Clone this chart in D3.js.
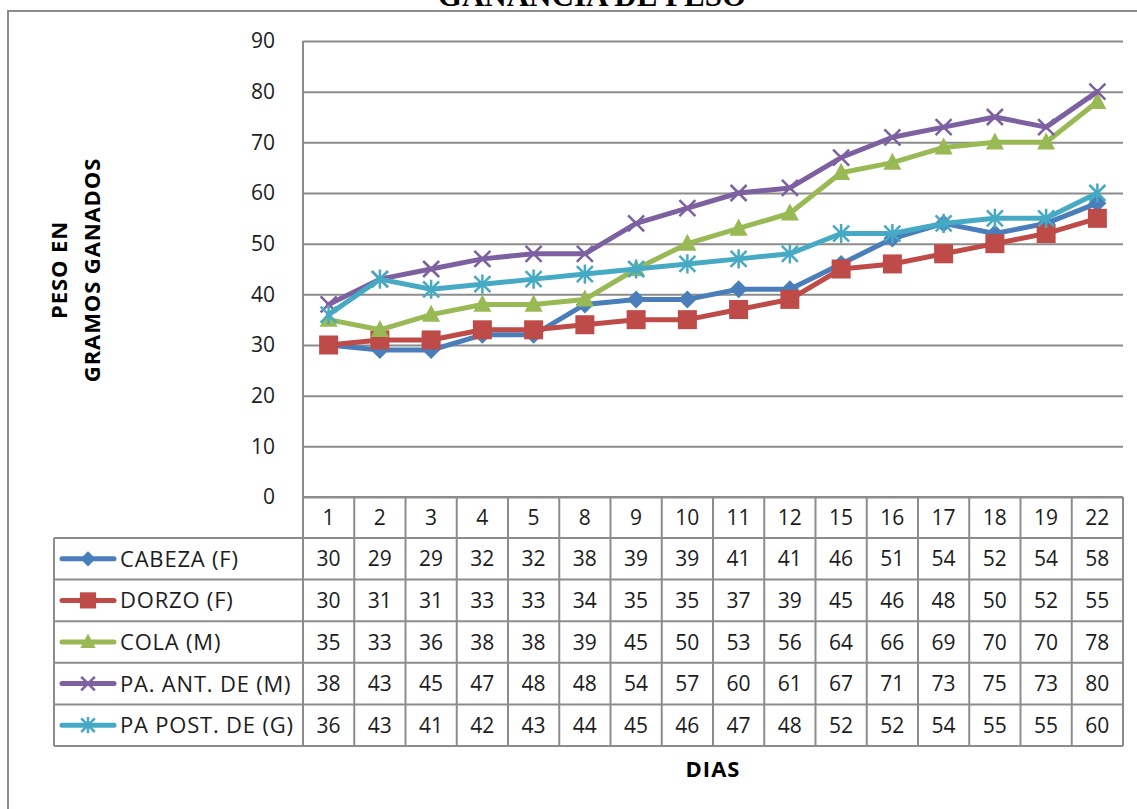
<!DOCTYPE html>
<html><head><meta charset="utf-8">
<script src="https://cdn.jsdelivr.net/npm/d3@7"></script>
<style>
html,body{margin:0;padding:0;background:#fff;}
svg{display:block;}
</style></head>
<body>
<svg id="c" width="1137" height="809"></svg>
<script>
const title = "GANANCIA DE PESO";
const yTitle = ["PESO EN", "GRAMOS GANADOS"];
const xTitle = "DIAS";
const dias = ["1","2","3","4","5","8","9","10","11","12","15","16","17","18","19","22"];
const seriesNames = ["CABEZA (F)", "DORZO (F)", "COLA (M)", "PA. ANT. DE (M)", "PA POST. DE (G)"];
const cabeza = [30,29,29,32,32,38,39,39,41,41,46,51,54,52,54,58];
const dorzo  = [30,31,31,33,33,34,35,35,37,39,45,46,48,50,52,55];
const cola   = [35,33,36,38,38,39,45,50,53,56,64,66,69,70,70,78];
const paAnt  = [38,43,45,47,48,48,54,57,60,61,67,71,73,75,73,80];
const paPost = [36,43,41,42,43,44,45,46,47,48,52,52,54,55,55,60];
const yTicks = [0,10,20,30,40,50,60,70,80,90];

const colors = ["#4a7ebb","#be4b48","#98b954","#7d60a0","#46aac5"];
const markers = ["diamond","square","triangle","x","asterisk"];
const seriesVals = [cabeza, dorzo, cola, paAnt, paPost];

const svg = d3.select("#c");
const FONT = "'Open Sans', sans-serif";
const grid = "#8c8c8c";
const ink = "#1c1c1c";

const L = 303, R = 1123, T = 41, B = 497;
const tableL = 54, rowTop = 538, tableBottom = 746;

// frame
svg.append("rect").attr("x",8).attr("y",11).attr("width",1200).attr("height",900)
  .attr("fill","none").attr("stroke",grid).attr("stroke-width",2);

// title (cut at top in the reference)
svg.append("text").attr("x",592).attr("y",6).attr("text-anchor","middle")
  .attr("font-family","'Liberation Serif', 'Times New Roman', serif").attr("font-weight","bold")
  .attr("font-size",31).attr("fill","#000").text(title);

const x = d3.scaleBand().domain(dias).range([L,R]);
const y = d3.scaleLinear().domain([0,90]).range([B,T]);

// gridlines + tick labels
const gAxis = svg.append("g").attr("transform",`translate(${L},0)`)
  .call(d3.axisLeft(y).tickValues(yTicks).tickSize(-(R-L)).tickPadding(28).tickFormat(d3.format("d")));
gAxis.select(".domain").remove();
gAxis.selectAll(".tick line").attr("stroke",grid).attr("stroke-width",2);
gAxis.selectAll(".tick text").attr("font-family",FONT).attr("font-size",21).attr("fill",ink);

// y axis line
svg.append("line").attr("x1",L).attr("x2",L).attr("y1",T).attr("y2",B).attr("stroke",grid).attr("stroke-width",2);

// y title
yTitle.forEach((t,i)=>{
  svg.append("text").attr("transform",`translate(${67+i*33},270) rotate(-90)`)
    .attr("text-anchor","middle").attr("font-family",FONT).attr("font-weight","bold")
    .attr("font-size",22).attr("letter-spacing",0.9).attr("fill","#000").text(t);
});

// table
const rowY = d3.scaleBand().domain(seriesNames).range([rowTop, tableBottom]);
const tbl = svg.append("g");
dias.forEach(d=>{
  tbl.append("line").attr("x1",x(d)).attr("x2",x(d)).attr("y1",B).attr("y2",tableBottom).attr("stroke",grid).attr("stroke-width",2);
});
tbl.append("line").attr("x1",R).attr("x2",R).attr("y1",B).attr("y2",tableBottom).attr("stroke",grid).attr("stroke-width",2);
tbl.append("line").attr("x1",L).attr("x2",R).attr("y1",B).attr("y2",B).attr("stroke",grid).attr("stroke-width",2);
tbl.append("line").attr("x1",tableL).attr("x2",tableL).attr("y1",rowTop).attr("y2",tableBottom).attr("stroke",grid).attr("stroke-width",2);
seriesNames.concat(["__end"]).forEach((s,i)=>{
  const yy = i < seriesNames.length ? rowY(s) : tableBottom;
  tbl.append("line").attr("x1",tableL).attr("x2",R).attr("y1",yy).attr("y2",yy).attr("stroke",grid).attr("stroke-width",2);
});
dias.forEach(d=>{
  tbl.append("text").attr("x",x(d)+x.bandwidth()/2).attr("y",(B+rowTop)/2).attr("dy","0.36em")
    .attr("text-anchor","middle").attr("font-family",FONT).attr("font-size",21).attr("fill",ink).text(d);
});
seriesNames.forEach((s,si)=>{
  const cy = rowY(s)+rowY.bandwidth()/2;
  seriesVals[si].forEach((v,i)=>{
    tbl.append("text").attr("x",x(dias[i])+x.bandwidth()/2).attr("y",cy).attr("dy","0.36em")
      .attr("text-anchor","middle").attr("font-family",FONT).attr("font-size",21).attr("fill",ink).text(v);
  });
  tbl.append("line").attr("x1",62).attr("x2",114).attr("y1",cy).attr("y2",cy)
    .attr("stroke",colors[si]).attr("stroke-width",5).attr("stroke-linecap","round");
  drawMarker(tbl, markers[si], 88, cy, colors[si], 0.85);
  tbl.append("text").attr("x",120).attr("y",cy).attr("dy","0.36em")
    .attr("font-family",FONT).attr("font-size",22).attr("letter-spacing",0.8).attr("fill",ink).text(s);
});

// x title
svg.append("text").attr("x",713).attr("y",777).attr("text-anchor","middle")
  .attr("font-family",FONT).attr("font-weight","bold").attr("font-size",22).attr("letter-spacing",1).attr("fill","#000").text(xTitle);

function drawMarker(g, type, cx, cy, color, k){
  k = k || 1;
  if(type==="diamond"){
    const s = 9*k;
    g.append("path").attr("d",`M${cx},${cy-s}L${cx+s},${cy}L${cx},${cy+s}L${cx-s},${cy}Z`).attr("fill",color);
  } else if(type==="square"){
    const s = 9.5*k;
    g.append("rect").attr("x",cx-s).attr("y",cy-s).attr("width",2*s).attr("height",2*s).attr("fill",color);
  } else if(type==="triangle"){
    const s = 9*k;
    g.append("path").attr("d",`M${cx},${cy-s*1.1}L${cx+s},${cy+s*0.8}L${cx-s},${cy+s*0.8}Z`).attr("fill",color);
  } else if(type==="x"){
    const s = 8*k;
    g.append("path").attr("d",`M${cx-s},${cy-s}L${cx+s},${cy+s}M${cx-s},${cy+s}L${cx+s},${cy-s}`)
      .attr("stroke",color).attr("stroke-width",2.5).attr("fill","none");
  } else if(type==="asterisk"){
    const s = 8*k;
    g.append("path").attr("d",`M${cx-s},${cy-s}L${cx+s},${cy+s}M${cx-s},${cy+s}L${cx+s},${cy-s}M${cx},${cy-s*1.2}L${cx},${cy+s*1.2}`)
      .attr("stroke",color).attr("stroke-width",2.5).attr("fill","none");
  }
}

// lines
const line = d3.line().x((d,i)=>x(dias[i])+x.bandwidth()/2).y(d=>y(d));
seriesVals.forEach((vals,si)=>{
  const g = svg.append("g");
  g.append("path").datum(vals).attr("d",line).attr("fill","none")
    .attr("stroke",colors[si]).attr("stroke-width",5).attr("stroke-linejoin","round").attr("stroke-linecap","round");
  vals.forEach((v,i)=>drawMarker(g, markers[si], x(dias[i])+x.bandwidth()/2, y(v), colors[si], 1));
});
</script>
</body></html>
